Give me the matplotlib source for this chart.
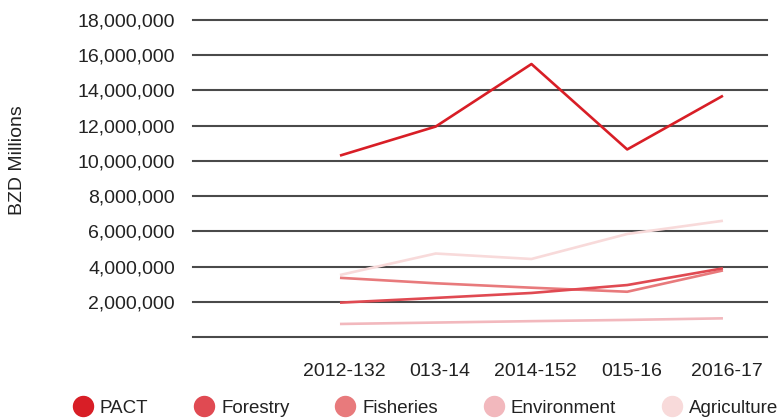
import matplotlib
matplotlib.use("Agg")
import matplotlib.pyplot as plt
from matplotlib.lines import Line2D
from matplotlib.ticker import FuncFormatter
from matplotlib.transforms import ScaledTranslation

plt.rcParams["font.family"] = ["Liberation Sans", "DejaVu Sans"]

# Fiscal-year budget lines (BZD)
tick_labels = ["2012-132", "013-14", "2014-152", "015-16", "2016-17"]
series_names = ["PACT", "Forestry", "Fisheries", "Environment", "Agriculture"]
pact = [10.3e6, 11.95e6, 15.5e6, 10.65e6, 13.7e6]
forestry = [1.95e6, 2.22e6, 2.5e6, 2.95e6, 3.9e6]
fisheries = [3.36e6, 3.05e6, 2.8e6, 2.57e6, 3.78e6]
environment = [0.74e6, 0.82e6, 0.9e6, 0.97e6, 1.06e6]
agriculture = [3.52e6, 4.74e6, 4.43e6, 5.85e6, 6.6e6]
y_ticks = [0, 2e6, 4e6, 6e6, 8e6, 10e6, 12e6, 14e6, 16e6, 18e6]

colors = ["#d81e26", "#e04a52", "#e87a7c", "#f2b8bd", "#f8dada"]
values = [pact, forestry, fisheries, environment, agriculture]

fig = plt.figure(figsize=(7.83, 4.19), dpi=100)
ax = fig.add_axes([193 / 783, 82 / 419, (767 - 193) / 783, (337 - 20) / 419])

x = list(range(len(tick_labels)))

# Horizontal rules at each tick value
for yv in y_ticks:
    ax.axhline(yv, color="#4a4a4a", lw=1.5, clip_on=False, zorder=1)

# Darker series on top
for name, vals, col in reversed(list(zip(series_names, values, colors))):
    ax.plot(x, vals, color=col, lw=1.9, solid_capstyle="butt", zorder=3)

ax.set_xlim(-1.535, 4.46)
ax.set_ylim(0, 18e6)
ax.set_yticks(y_ticks)
ax.yaxis.set_major_formatter(
    FuncFormatter(lambda v, p: "" if v == 0 else f"{v:,.0f}"))
ax.set_xticks(x)
ax.set_xticklabels(tick_labels)
ax.tick_params(axis="y", length=0, pad=13, labelsize=14, labelcolor="#222222")
ax.tick_params(axis="x", length=0, pad=19, labelsize=14, labelcolor="#222222")
shift = ScaledTranslation(0.04, 0, fig.dpi_scale_trans)
for lbl in ax.get_xticklabels():
    lbl.set_transform(lbl.get_transform() + shift)
for s in ax.spines.values():
    s.set_visible(False)

fig.text(18 / 783, 1 - 160 / 419, "BZD Millions", rotation=90,
         ha="center", va="center", fontsize=14, color="#222222")

handles = [Line2D([], [], marker="o", linestyle="none", markersize=14.4,
                  markerfacecolor=c, markeredgecolor=c) for c in colors]
fig.legend(handles, series_names, loc="center left",
           bbox_to_anchor=(73 / 783, 1 - 408 / 419), ncol=5, frameon=False,
           fontsize=13.5, handletextpad=0.36, columnspacing=2.45,
           borderaxespad=0, borderpad=0, handlelength=1.07,
           labelcolor="#222222")

fig.savefig("out.png", dpi=100)
